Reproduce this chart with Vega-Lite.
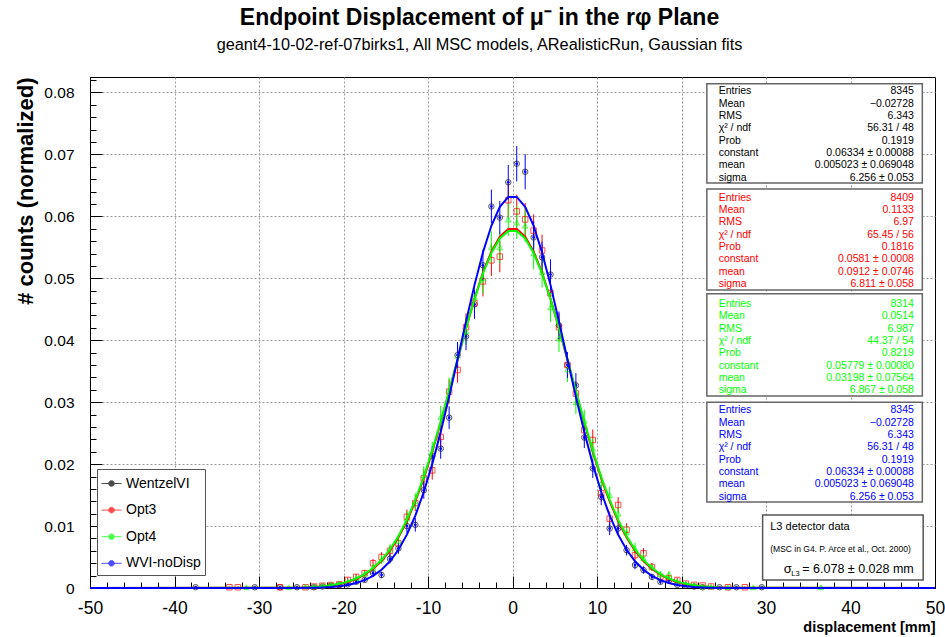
{
  "$schema": "https://vega.github.io/schema/vega-lite/v6.json",
  "width": 845,
  "height": 511,
  "autosize": {"type": "none"},
  "padding": {"left": 90, "top": 77, "right": 10, "bottom": 49},
  "background": "white",
  "title": {
    "text": "Endpoint Displacement of  μ⁻ in the rφ Plane",
    "subtitle": "geant4-10-02-ref-07birks1, All MSC models, ARealisticRun, Gaussian fits",
    "font": "Liberation Sans",
    "fontSize": 23,
    "fontWeight": "bold",
    "color": "#000",
    "subtitleFont": "Liberation Sans",
    "subtitleFontSize": 16.3,
    "subtitleColor": "#000",
    "subtitlePadding": 7,
    "anchor": "middle",
    "frame": "group",
    "dx": -33,
    "offset": 20
  },
  "config": {
    "font": "Liberation Sans",
    "view": {"stroke": "#000", "strokeWidth": 1}
  },
  "resolve": {"axis": {"x": "independent", "y": "independent"}},
  "datasets": {
    "pts": [
      {"series": "Opt3", "x": -33.5, "y": 0.00012, "err": 0.00012},
      {"series": "Opt3", "x": -32.5, "y": 0.00012, "err": 0.00012},
      {"series": "Opt3", "x": -27.5, "y": 0.00012, "err": 0.00012},
      {"series": "Opt3", "x": -24.5, "y": 0.00012, "err": 0.00012},
      {"series": "Opt3", "x": -23.5, "y": 0.00024, "err": 0.00017},
      {"series": "Opt3", "x": -22.5, "y": 0.00036, "err": 0.00021},
      {"series": "Opt3", "x": -21.5, "y": 0.00048, "err": 0.00024},
      {"series": "Opt3", "x": -20.5, "y": 0.0006, "err": 0.00027},
      {"series": "Opt3", "x": -19.5, "y": 0.0013, "err": 0.00039},
      {"series": "Opt3", "x": -18.5, "y": 0.0018, "err": 0.00046},
      {"series": "Opt3", "x": -17.5, "y": 0.0024, "err": 0.00053},
      {"series": "Opt3", "x": -16.5, "y": 0.004, "err": 0.00069},
      {"series": "Opt3", "x": -15.5, "y": 0.005, "err": 0.00077},
      {"series": "Opt3", "x": -14.5, "y": 0.006, "err": 0.00084},
      {"series": "Opt3", "x": -13.5, "y": 0.0072, "err": 0.00093},
      {"series": "Opt3", "x": -12.5, "y": 0.0115, "err": 0.00117},
      {"series": "Opt3", "x": -11.5, "y": 0.0137, "err": 0.00128},
      {"series": "Opt3", "x": -10.5, "y": 0.0177, "err": 0.00145},
      {"series": "Opt3", "x": -9.5, "y": 0.019, "err": 0.0015},
      {"series": "Opt3", "x": -8.5, "y": 0.0244, "err": 0.0017},
      {"series": "Opt3", "x": -7.5, "y": 0.0317, "err": 0.00194},
      {"series": "Opt3", "x": -6.5, "y": 0.0352, "err": 0.00205},
      {"series": "Opt3", "x": -5.5, "y": 0.0421, "err": 0.00224},
      {"series": "Opt3", "x": -4.5, "y": 0.046, "err": 0.00234},
      {"series": "Opt3", "x": -3.5, "y": 0.0495, "err": 0.00243},
      {"series": "Opt3", "x": -2.5, "y": 0.0529, "err": 0.00251},
      {"series": "Opt3", "x": -1.5, "y": 0.0535, "err": 0.00252},
      {"series": "Opt3", "x": -0.5, "y": 0.0626, "err": 0.00273},
      {"series": "Opt3", "x": 0.5, "y": 0.0608, "err": 0.00269},
      {"series": "Opt3", "x": 1.5, "y": 0.0595, "err": 0.00266},
      {"series": "Opt3", "x": 2.5, "y": 0.0577, "err": 0.00262},
      {"series": "Opt3", "x": 3.5, "y": 0.0545, "err": 0.00255},
      {"series": "Opt3", "x": 4.5, "y": 0.0476, "err": 0.00238},
      {"series": "Opt3", "x": 5.5, "y": 0.0421, "err": 0.00224},
      {"series": "Opt3", "x": 6.5, "y": 0.036, "err": 0.00207},
      {"series": "Opt3", "x": 7.5, "y": 0.0314, "err": 0.00193},
      {"series": "Opt3", "x": 8.5, "y": 0.0255, "err": 0.00174},
      {"series": "Opt3", "x": 9.5, "y": 0.0239, "err": 0.00169},
      {"series": "Opt3", "x": 10.5, "y": 0.0153, "err": 0.00135},
      {"series": "Opt3", "x": 11.5, "y": 0.0112, "err": 0.00115},
      {"series": "Opt3", "x": 12.5, "y": 0.0134, "err": 0.00126},
      {"series": "Opt3", "x": 13.5, "y": 0.0094, "err": 0.00106},
      {"series": "Opt3", "x": 14.5, "y": 0.0053, "err": 0.00079},
      {"series": "Opt3", "x": 15.5, "y": 0.0056, "err": 0.00082},
      {"series": "Opt3", "x": 16.5, "y": 0.0034, "err": 0.00064},
      {"series": "Opt3", "x": 17.5, "y": 0.0018, "err": 0.00046},
      {"series": "Opt3", "x": 18.5, "y": 0.0016, "err": 0.00044},
      {"series": "Opt3", "x": 19.5, "y": 0.0013, "err": 0.00039},
      {"series": "Opt3", "x": 20.5, "y": 0.0007, "err": 0.00029},
      {"series": "Opt3", "x": 21.5, "y": 0.0005, "err": 0.00024},
      {"series": "Opt3", "x": 22.5, "y": 0.0004, "err": 0.00022},
      {"series": "Opt3", "x": 23.5, "y": 0.00024, "err": 0.00017},
      {"series": "Opt3", "x": 25.5, "y": 0.00012, "err": 0.00012},
      {"series": "Opt3", "x": 27.5, "y": 0.00012, "err": 0.00012},
      {"series": "Opt4", "x": -31.5, "y": 0.00012, "err": 0.00012},
      {"series": "Opt4", "x": -26.5, "y": 0.00012, "err": 0.00012},
      {"series": "Opt4", "x": -24.5, "y": 0.00024, "err": 0.00017},
      {"series": "Opt4", "x": -23.5, "y": 0.00024, "err": 0.00017},
      {"series": "Opt4", "x": -22.5, "y": 0.00036, "err": 0.00021},
      {"series": "Opt4", "x": -21.5, "y": 0.0005, "err": 0.00025},
      {"series": "Opt4", "x": -20.5, "y": 0.0007, "err": 0.00029},
      {"series": "Opt4", "x": -19.5, "y": 0.001, "err": 0.00035},
      {"series": "Opt4", "x": -18.5, "y": 0.0016, "err": 0.00044},
      {"series": "Opt4", "x": -17.5, "y": 0.0023, "err": 0.00053},
      {"series": "Opt4", "x": -16.5, "y": 0.0033, "err": 0.00063},
      {"series": "Opt4", "x": -15.5, "y": 0.0046, "err": 0.00074},
      {"series": "Opt4", "x": -14.5, "y": 0.0062, "err": 0.00086},
      {"series": "Opt4", "x": -13.5, "y": 0.0076, "err": 0.00096},
      {"series": "Opt4", "x": -12.5, "y": 0.0112, "err": 0.00116},
      {"series": "Opt4", "x": -11.5, "y": 0.014, "err": 0.0013},
      {"series": "Opt4", "x": -10.5, "y": 0.0182, "err": 0.00148},
      {"series": "Opt4", "x": -9.5, "y": 0.022, "err": 0.00163},
      {"series": "Opt4", "x": -8.5, "y": 0.0276, "err": 0.00182},
      {"series": "Opt4", "x": -7.5, "y": 0.032, "err": 0.00196},
      {"series": "Opt4", "x": -6.5, "y": 0.0375, "err": 0.00212},
      {"series": "Opt4", "x": -5.5, "y": 0.0415, "err": 0.00223},
      {"series": "Opt4", "x": -4.5, "y": 0.047, "err": 0.00238},
      {"series": "Opt4", "x": -3.5, "y": 0.05, "err": 0.00245},
      {"series": "Opt4", "x": -2.5, "y": 0.055, "err": 0.00257},
      {"series": "Opt4", "x": -1.5, "y": 0.055, "err": 0.00257},
      {"series": "Opt4", "x": -0.5, "y": 0.0595, "err": 0.00268},
      {"series": "Opt4", "x": 0.5, "y": 0.059, "err": 0.00266},
      {"series": "Opt4", "x": 1.5, "y": 0.0585, "err": 0.00265},
      {"series": "Opt4", "x": 2.5, "y": 0.054, "err": 0.00255},
      {"series": "Opt4", "x": 3.5, "y": 0.051, "err": 0.00248},
      {"series": "Opt4", "x": 4.5, "y": 0.0453, "err": 0.00233},
      {"series": "Opt4", "x": 5.5, "y": 0.0403, "err": 0.0022},
      {"series": "Opt4", "x": 6.5, "y": 0.0353, "err": 0.00206},
      {"series": "Opt4", "x": 7.5, "y": 0.03, "err": 0.0019},
      {"series": "Opt4", "x": 8.5, "y": 0.027, "err": 0.0018},
      {"series": "Opt4", "x": 9.5, "y": 0.0225, "err": 0.00165},
      {"series": "Opt4", "x": 10.5, "y": 0.0169, "err": 0.00143},
      {"series": "Opt4", "x": 11.5, "y": 0.015, "err": 0.00134},
      {"series": "Opt4", "x": 12.5, "y": 0.012, "err": 0.0012},
      {"series": "Opt4", "x": 13.5, "y": 0.009, "err": 0.00104},
      {"series": "Opt4", "x": 14.5, "y": 0.0064, "err": 0.00088},
      {"series": "Opt4", "x": 15.5, "y": 0.0048, "err": 0.00076},
      {"series": "Opt4", "x": 16.5, "y": 0.0034, "err": 0.00064},
      {"series": "Opt4", "x": 17.5, "y": 0.0022, "err": 0.00051},
      {"series": "Opt4", "x": 18.5, "y": 0.0022, "err": 0.00051},
      {"series": "Opt4", "x": 19.5, "y": 0.0011, "err": 0.00036},
      {"series": "Opt4", "x": 20.5, "y": 0.0007, "err": 0.00029},
      {"series": "Opt4", "x": 21.5, "y": 0.0005, "err": 0.00025},
      {"series": "Opt4", "x": 22.5, "y": 0.00024, "err": 0.00017},
      {"series": "Opt4", "x": 23.5, "y": 0.00024, "err": 0.00017},
      {"series": "Opt4", "x": 25.5, "y": 0.00012, "err": 0.00012},
      {"series": "Opt4", "x": 28.5, "y": 0.00012, "err": 0.00012},
      {"series": "Opt4", "x": 36.5, "y": 0.00012, "err": 0.00012},
      {"series": "WVI-noDisp", "x": -37.5, "y": 0.00012, "err": 0.00012},
      {"series": "WVI-noDisp", "x": -30.5, "y": 0.00012, "err": 0.00012},
      {"series": "WVI-noDisp", "x": -27.5, "y": 0.00012, "err": 0.00012},
      {"series": "WVI-noDisp", "x": -25.5, "y": 0.00012, "err": 0.00012},
      {"series": "WVI-noDisp", "x": -23.5, "y": 0.00012, "err": 0.00012},
      {"series": "WVI-noDisp", "x": -22.5, "y": 0.00024, "err": 0.00017},
      {"series": "WVI-noDisp", "x": -21.5, "y": 0.00036, "err": 0.00021},
      {"series": "WVI-noDisp", "x": -20.5, "y": 0.00048, "err": 0.00024},
      {"series": "WVI-noDisp", "x": -19.5, "y": 0.0006, "err": 0.00027},
      {"series": "WVI-noDisp", "x": -18.5, "y": 0.001, "err": 0.00035},
      {"series": "WVI-noDisp", "x": -17.5, "y": 0.0013, "err": 0.00039},
      {"series": "WVI-noDisp", "x": -16.5, "y": 0.0024, "err": 0.00054},
      {"series": "WVI-noDisp", "x": -15.5, "y": 0.0021, "err": 0.0005},
      {"series": "WVI-noDisp", "x": -14.5, "y": 0.0047, "err": 0.00075},
      {"series": "WVI-noDisp", "x": -13.5, "y": 0.0064, "err": 0.00088},
      {"series": "WVI-noDisp", "x": -12.5, "y": 0.01, "err": 0.00109},
      {"series": "WVI-noDisp", "x": -11.5, "y": 0.0102, "err": 0.00111},
      {"series": "WVI-noDisp", "x": -10.5, "y": 0.0158, "err": 0.00138},
      {"series": "WVI-noDisp", "x": -9.5, "y": 0.0213, "err": 0.0016},
      {"series": "WVI-noDisp", "x": -8.5, "y": 0.0225, "err": 0.00164},
      {"series": "WVI-noDisp", "x": -7.5, "y": 0.0275, "err": 0.00182},
      {"series": "WVI-noDisp", "x": -6.5, "y": 0.0376, "err": 0.00212},
      {"series": "WVI-noDisp", "x": -5.5, "y": 0.0406, "err": 0.00221},
      {"series": "WVI-noDisp", "x": -4.5, "y": 0.0458, "err": 0.00234},
      {"series": "WVI-noDisp", "x": -3.5, "y": 0.0521, "err": 0.0025},
      {"series": "WVI-noDisp", "x": -2.5, "y": 0.0616, "err": 0.00272},
      {"series": "WVI-noDisp", "x": -1.5, "y": 0.0598, "err": 0.00268},
      {"series": "WVI-noDisp", "x": -0.5, "y": 0.0655, "err": 0.0028},
      {"series": "WVI-noDisp", "x": 0.5, "y": 0.0685, "err": 0.00287},
      {"series": "WVI-noDisp", "x": 1.5, "y": 0.0672, "err": 0.00284},
      {"series": "WVI-noDisp", "x": 2.5, "y": 0.0566, "err": 0.0026},
      {"series": "WVI-noDisp", "x": 3.5, "y": 0.0534, "err": 0.00253},
      {"series": "WVI-noDisp", "x": 4.5, "y": 0.0506, "err": 0.00246},
      {"series": "WVI-noDisp", "x": 5.5, "y": 0.0424, "err": 0.00225},
      {"series": "WVI-noDisp", "x": 6.5, "y": 0.036, "err": 0.00208},
      {"series": "WVI-noDisp", "x": 7.5, "y": 0.0327, "err": 0.00198},
      {"series": "WVI-noDisp", "x": 8.5, "y": 0.0243, "err": 0.00171},
      {"series": "WVI-noDisp", "x": 9.5, "y": 0.0193, "err": 0.00152},
      {"series": "WVI-noDisp", "x": 10.5, "y": 0.0147, "err": 0.00133},
      {"series": "WVI-noDisp", "x": 11.5, "y": 0.0096, "err": 0.00107},
      {"series": "WVI-noDisp", "x": 12.5, "y": 0.0096, "err": 0.00107},
      {"series": "WVI-noDisp", "x": 13.5, "y": 0.0061, "err": 0.00085},
      {"series": "WVI-noDisp", "x": 14.5, "y": 0.0037, "err": 0.00067},
      {"series": "WVI-noDisp", "x": 15.5, "y": 0.0029, "err": 0.00059},
      {"series": "WVI-noDisp", "x": 16.5, "y": 0.0018, "err": 0.00046},
      {"series": "WVI-noDisp", "x": 17.5, "y": 0.001, "err": 0.00035},
      {"series": "WVI-noDisp", "x": 18.5, "y": 0.0012, "err": 0.00038},
      {"series": "WVI-noDisp", "x": 19.5, "y": 0.0005, "err": 0.00024},
      {"series": "WVI-noDisp", "x": 20.5, "y": 0.0004, "err": 0.00022},
      {"series": "WVI-noDisp", "x": 21.5, "y": 0.00024, "err": 0.00017},
      {"series": "WVI-noDisp", "x": 22.5, "y": 0.00012, "err": 0.00012},
      {"series": "WVI-noDisp", "x": 24.5, "y": 0.00012, "err": 0.00012},
      {"series": "WVI-noDisp", "x": 26.5, "y": 0.00012, "err": 0.00012},
      {"series": "WVI-noDisp", "x": 29.5, "y": 0.00012, "err": 0.00012}
    ],
    "fits": [
      {"series": "Opt3", "x": -50, "y": 0},
      {"series": "Opt3", "x": -25.5, "y": 0.00005},
      {"series": "Opt3", "x": -24.5, "y": 0.00009},
      {"series": "Opt3", "x": -23.5, "y": 0.00015},
      {"series": "Opt3", "x": -22.5, "y": 0.00025},
      {"series": "Opt3", "x": -21.5, "y": 0.0004},
      {"series": "Opt3", "x": -20.5, "y": 0.00063},
      {"series": "Opt3", "x": -19.5, "y": 0.00096},
      {"series": "Opt3", "x": -18.5, "y": 0.00145},
      {"series": "Opt3", "x": -17.5, "y": 0.00214},
      {"series": "Opt3", "x": -16.5, "y": 0.00309},
      {"series": "Opt3", "x": -15.5, "y": 0.00436},
      {"series": "Opt3", "x": -14.5, "y": 0.00603},
      {"series": "Opt3", "x": -13.5, "y": 0.00815},
      {"series": "Opt3", "x": -12.5, "y": 0.01078},
      {"series": "Opt3", "x": -11.5, "y": 0.01397},
      {"series": "Opt3", "x": -10.5, "y": 0.01771},
      {"series": "Opt3", "x": -9.5, "y": 0.02197},
      {"series": "Opt3", "x": -8.5, "y": 0.02667},
      {"series": "Opt3", "x": -7.5, "y": 0.03169},
      {"series": "Opt3", "x": -6.5, "y": 0.03685},
      {"series": "Opt3", "x": -5.5, "y": 0.04194},
      {"series": "Opt3", "x": -4.5, "y": 0.04671},
      {"series": "Opt3", "x": -3.5, "y": 0.05091},
      {"series": "Opt3", "x": -2.5, "y": 0.05431},
      {"series": "Opt3", "x": -1.5, "y": 0.05671},
      {"series": "Opt3", "x": -0.5, "y": 0.05794},
      {"series": "Opt3", "x": 0.5, "y": 0.05794},
      {"series": "Opt3", "x": 1.5, "y": 0.05671},
      {"series": "Opt3", "x": 2.5, "y": 0.05431},
      {"series": "Opt3", "x": 3.5, "y": 0.05091},
      {"series": "Opt3", "x": 4.5, "y": 0.04671},
      {"series": "Opt3", "x": 5.5, "y": 0.04194},
      {"series": "Opt3", "x": 6.5, "y": 0.03685},
      {"series": "Opt3", "x": 7.5, "y": 0.03169},
      {"series": "Opt3", "x": 8.5, "y": 0.02667},
      {"series": "Opt3", "x": 9.5, "y": 0.02197},
      {"series": "Opt3", "x": 10.5, "y": 0.01771},
      {"series": "Opt3", "x": 11.5, "y": 0.01397},
      {"series": "Opt3", "x": 12.5, "y": 0.01078},
      {"series": "Opt3", "x": 13.5, "y": 0.00815},
      {"series": "Opt3", "x": 14.5, "y": 0.00603},
      {"series": "Opt3", "x": 15.5, "y": 0.00436},
      {"series": "Opt3", "x": 16.5, "y": 0.00309},
      {"series": "Opt3", "x": 17.5, "y": 0.00214},
      {"series": "Opt3", "x": 18.5, "y": 0.00145},
      {"series": "Opt3", "x": 19.5, "y": 0.00096},
      {"series": "Opt3", "x": 20.5, "y": 0.00063},
      {"series": "Opt3", "x": 21.5, "y": 0.0004},
      {"series": "Opt3", "x": 22.5, "y": 0.00025},
      {"series": "Opt3", "x": 23.5, "y": 0.00015},
      {"series": "Opt3", "x": 24.5, "y": 0.00009},
      {"series": "Opt3", "x": 25.5, "y": 0.00005},
      {"series": "Opt3", "x": 50, "y": 0},
      {"series": "Opt4", "x": -50, "y": 0},
      {"series": "Opt4", "x": -25.5, "y": 0.00006},
      {"series": "Opt4", "x": -24.5, "y": 0.0001},
      {"series": "Opt4", "x": -23.5, "y": 0.00017},
      {"series": "Opt4", "x": -22.5, "y": 0.00027},
      {"series": "Opt4", "x": -21.5, "y": 0.00043},
      {"series": "Opt4", "x": -20.5, "y": 0.00067},
      {"series": "Opt4", "x": -19.5, "y": 0.00103},
      {"series": "Opt4", "x": -18.5, "y": 0.00153},
      {"series": "Opt4", "x": -17.5, "y": 0.00225},
      {"series": "Opt4", "x": -16.5, "y": 0.00322},
      {"series": "Opt4", "x": -15.5, "y": 0.00452},
      {"series": "Opt4", "x": -14.5, "y": 0.00622},
      {"series": "Opt4", "x": -13.5, "y": 0.00837},
      {"series": "Opt4", "x": -12.5, "y": 0.01102},
      {"series": "Opt4", "x": -11.5, "y": 0.01422},
      {"series": "Opt4", "x": -10.5, "y": 0.01795},
      {"series": "Opt4", "x": -9.5, "y": 0.02219},
      {"series": "Opt4", "x": -8.5, "y": 0.02686},
      {"series": "Opt4", "x": -7.5, "y": 0.03183},
      {"series": "Opt4", "x": -6.5, "y": 0.03692},
      {"series": "Opt4", "x": -5.5, "y": 0.04193},
      {"series": "Opt4", "x": -4.5, "y": 0.04662},
      {"series": "Opt4", "x": -3.5, "y": 0.05075},
      {"series": "Opt4", "x": -2.5, "y": 0.05408},
      {"series": "Opt4", "x": -1.5, "y": 0.05643},
      {"series": "Opt4", "x": -0.5, "y": 0.05764},
      {"series": "Opt4", "x": 0.5, "y": 0.05764},
      {"series": "Opt4", "x": 1.5, "y": 0.05643},
      {"series": "Opt4", "x": 2.5, "y": 0.05408},
      {"series": "Opt4", "x": 3.5, "y": 0.05075},
      {"series": "Opt4", "x": 4.5, "y": 0.04662},
      {"series": "Opt4", "x": 5.5, "y": 0.04193},
      {"series": "Opt4", "x": 6.5, "y": 0.03692},
      {"series": "Opt4", "x": 7.5, "y": 0.03183},
      {"series": "Opt4", "x": 8.5, "y": 0.02686},
      {"series": "Opt4", "x": 9.5, "y": 0.02219},
      {"series": "Opt4", "x": 10.5, "y": 0.01795},
      {"series": "Opt4", "x": 11.5, "y": 0.01422},
      {"series": "Opt4", "x": 12.5, "y": 0.01102},
      {"series": "Opt4", "x": 13.5, "y": 0.00837},
      {"series": "Opt4", "x": 14.5, "y": 0.00622},
      {"series": "Opt4", "x": 15.5, "y": 0.00452},
      {"series": "Opt4", "x": 16.5, "y": 0.00322},
      {"series": "Opt4", "x": 17.5, "y": 0.00225},
      {"series": "Opt4", "x": 18.5, "y": 0.00153},
      {"series": "Opt4", "x": 19.5, "y": 0.00103},
      {"series": "Opt4", "x": 20.5, "y": 0.00067},
      {"series": "Opt4", "x": 21.5, "y": 0.00043},
      {"series": "Opt4", "x": 22.5, "y": 0.00027},
      {"series": "Opt4", "x": 23.5, "y": 0.00017},
      {"series": "Opt4", "x": 24.5, "y": 0.0001},
      {"series": "Opt4", "x": 25.5, "y": 0.00006},
      {"series": "Opt4", "x": 50, "y": 0},
      {"series": "WVI-noDisp", "x": -50, "y": 0},
      {"series": "WVI-noDisp", "x": -25.5, "y": 0.00001},
      {"series": "WVI-noDisp", "x": -23.5, "y": 0.00005},
      {"series": "WVI-noDisp", "x": -22.5, "y": 0.0001},
      {"series": "WVI-noDisp", "x": -21.5, "y": 0.00017},
      {"series": "WVI-noDisp", "x": -20.5, "y": 0.0003},
      {"series": "WVI-noDisp", "x": -19.5, "y": 0.00049},
      {"series": "WVI-noDisp", "x": -18.5, "y": 0.0008},
      {"series": "WVI-noDisp", "x": -17.5, "y": 0.00127},
      {"series": "WVI-noDisp", "x": -16.5, "y": 0.00196},
      {"series": "WVI-noDisp", "x": -15.5, "y": 0.00294},
      {"series": "WVI-noDisp", "x": -14.5, "y": 0.00432},
      {"series": "WVI-noDisp", "x": -13.5, "y": 0.00618},
      {"series": "WVI-noDisp", "x": -12.5, "y": 0.00861},
      {"series": "WVI-noDisp", "x": -11.5, "y": 0.01169},
      {"series": "WVI-noDisp", "x": -10.5, "y": 0.01549},
      {"series": "WVI-noDisp", "x": -9.5, "y": 0.02},
      {"series": "WVI-noDisp", "x": -8.5, "y": 0.02517},
      {"series": "WVI-noDisp", "x": -7.5, "y": 0.03088},
      {"series": "WVI-noDisp", "x": -6.5, "y": 0.03692},
      {"series": "WVI-noDisp", "x": -5.5, "y": 0.04304},
      {"series": "WVI-noDisp", "x": -4.5, "y": 0.0489},
      {"series": "WVI-noDisp", "x": -3.5, "y": 0.05416},
      {"series": "WVI-noDisp", "x": -2.5, "y": 0.05848},
      {"series": "WVI-noDisp", "x": -1.5, "y": 0.06155},
      {"series": "WVI-noDisp", "x": -0.5, "y": 0.06314},
      {"series": "WVI-noDisp", "x": 0.5, "y": 0.06314},
      {"series": "WVI-noDisp", "x": 1.5, "y": 0.06155},
      {"series": "WVI-noDisp", "x": 2.5, "y": 0.05848},
      {"series": "WVI-noDisp", "x": 3.5, "y": 0.05416},
      {"series": "WVI-noDisp", "x": 4.5, "y": 0.0489},
      {"series": "WVI-noDisp", "x": 5.5, "y": 0.04304},
      {"series": "WVI-noDisp", "x": 6.5, "y": 0.03692},
      {"series": "WVI-noDisp", "x": 7.5, "y": 0.03088},
      {"series": "WVI-noDisp", "x": 8.5, "y": 0.02517},
      {"series": "WVI-noDisp", "x": 9.5, "y": 0.02},
      {"series": "WVI-noDisp", "x": 10.5, "y": 0.01549},
      {"series": "WVI-noDisp", "x": 11.5, "y": 0.01169},
      {"series": "WVI-noDisp", "x": 12.5, "y": 0.00861},
      {"series": "WVI-noDisp", "x": 13.5, "y": 0.00618},
      {"series": "WVI-noDisp", "x": 14.5, "y": 0.00432},
      {"series": "WVI-noDisp", "x": 15.5, "y": 0.00294},
      {"series": "WVI-noDisp", "x": 16.5, "y": 0.00196},
      {"series": "WVI-noDisp", "x": 17.5, "y": 0.00127},
      {"series": "WVI-noDisp", "x": 18.5, "y": 0.0008},
      {"series": "WVI-noDisp", "x": 19.5, "y": 0.00049},
      {"series": "WVI-noDisp", "x": 20.5, "y": 0.0003},
      {"series": "WVI-noDisp", "x": 21.5, "y": 0.00017},
      {"series": "WVI-noDisp", "x": 22.5, "y": 0.0001},
      {"series": "WVI-noDisp", "x": 23.5, "y": 0.00005},
      {"series": "WVI-noDisp", "x": 25.5, "y": 0.00001},
      {"series": "WVI-noDisp", "x": 50, "y": 0}
    ]
  },
  "layer": [
    {
      "data": {"name": "pts"},
      "transform": [{"filter": "datum.series === 'WVI-noDisp'"}],
      "mark": {"type": "point", "shape": "circle", "filled": false, "stroke": "#000", "strokeWidth": 1, "size": 30},
      "encoding": {
        "x": {
          "field": "x",
          "type": "quantitative",
          "scale": {"domain": [-50, 50], "nice": false, "zero": false},
          "axis": {
            "values": [-50,-48,-46,-44,-42,-40,-38,-36,-34,-32,-30,-28,-26,-24,-22,-20,-18,-16,-14,-12,-10,-8,-6,-4,-2,0,2,4,6,8,10,12,14,16,18,20,22,24,26,28,30,32,34,36,38,40,42,44,46,48,50],
            "labelExpr": "datum.value % 10 === 0 ? '' + datum.value : ''",
            "labelFont": "Liberation Sans",
            "labelFontSize": 17.5,
            "labelColor": "#000",
            "labelPadding": 23,
            "labelFlush": false,
            "labelOverlap": false,
            "tickColor": "#000",
            "tickSize": {"condition": {"test": "datum.value % 10 === 0", "value": -12}, "value": -6},
            "domainColor": "#000",
            "grid": true,
            "gridColor": "#999",
            "gridDash": [2, 2],
            "gridOpacity": {"condition": {"test": "datum.value % 10 === 0 && abs(datum.value) < 50", "value": 1}, "value": 0},
            "title": "displacement [mm]",
            "titleFont": "Liberation Sans",
            "titleFontSize": 14.5,
            "titleFontWeight": "bold",
            "titleColor": "#000",
            "titleAnchor": "end",
            "titlePadding": -2
          }
        },
        "y": {
          "field": "y",
          "type": "quantitative",
          "scale": {"domain": [0, 0.0825], "nice": false, "zero": false},
          "axis": {
            "values": [0,0.002,0.004,0.006,0.008,0.01,0.012,0.014,0.016,0.018,0.02,0.022,0.024,0.026,0.028,0.03,0.032,0.034,0.036,0.038,0.04,0.042,0.044,0.046,0.048,0.05,0.052,0.054,0.056,0.058,0.06,0.062,0.064,0.066,0.068,0.07,0.072,0.074,0.076,0.078,0.08,0.082],
            "labelExpr": "abs(datum.value * 100 - round(datum.value * 100)) < 0.001 ? (datum.value === 0 ? '0' : format(datum.value, '.2f')) : ''",
            "labelFont": "Liberation Sans",
            "labelFontSize": 15.5,
            "labelColor": "#000",
            "labelPadding": 28,
            "labelOverlap": false,
            "tickColor": "#000",
            "tickSize": {"condition": {"test": "abs(datum.value * 100 - round(datum.value * 100)) < 0.001", "value": -12}, "value": -6},
            "domainColor": "#000",
            "grid": true,
            "gridColor": "#999",
            "gridDash": [2, 2],
            "gridOpacity": {"condition": {"test": "abs(datum.value * 100 - round(datum.value * 100)) < 0.001 && datum.value > 0", "value": 1}, "value": 0},
            "title": "# counts (normalized)",
            "titleFont": "Liberation Sans",
            "titleFontSize": 22,
            "titleFontWeight": "bold",
            "titleColor": "#000",
            "titleAnchor": "end",
            "titlePadding": 6
          }
        }
      }
    },
    {
      "data": {"name": "pts"},
      "mark": {"type": "errorbar", "thickness": 1},
      "encoding": {
        "x": {"field": "x", "type": "quantitative", "axis": null},
        "y": {"field": "y", "type": "quantitative", "axis": null},
        "yError": {"field": "err"},
        "color": {"field": "series", "type": "nominal"}
      }
    },
    {
      "data": {"name": "pts"},
      "transform": [{"filter": "datum.series !== 'WVI-noDisp'"}],
      "mark": {"type": "point", "filled": false, "strokeWidth": 1, "size": 30},
      "encoding": {
        "x": {"field": "x", "type": "quantitative", "axis": null},
        "y": {"field": "y", "type": "quantitative", "axis": null},
        "color": {"field": "series", "type": "nominal"},
        "shape": {"field": "series", "type": "nominal", "scale": {"domain": ["Opt3", "Opt4"], "range": ["square", "triangle-up"]}, "legend": null}
      }
    },
    {
      "data": {"name": "pts"},
      "transform": [{"filter": "datum.series === 'WVI-noDisp'"}],
      "mark": {"type": "point", "shape": "circle", "filled": true, "size": 8, "opacity": 1},
      "encoding": {
        "x": {"field": "x", "type": "quantitative", "axis": null},
        "y": {"field": "y", "type": "quantitative", "axis": null},
        "color": {"field": "series", "type": "nominal"}
      }
    },
    {
      "data": {"name": "fits"},
      "mark": {"type": "line", "strokeWidth": 2, "interpolate": "linear"},
      "encoding": {
        "x": {"field": "x", "type": "quantitative", "axis": null},
        "y": {"field": "y", "type": "quantitative", "axis": null},
        "color": {
          "field": "series",
          "type": "nominal",
          "scale": {"domain": ["WentzelVI", "Opt3", "Opt4", "WVI-noDisp"], "range": ["#000000", "#ff0000", "#00ff00", "#0000ff"]},
          "legend": {
            "title": null,
            "orient": "none",
            "legendX": 7,
            "legendY": 392,
            "symbolType": "M-1,0H1M0.28,0A0.28,0.28 0 1,1 -0.28,0A0.28,0.28 0 1,1 0.28,0",
            "symbolSize": 400,
            "symbolStrokeWidth": 1,
            "symbolFillColor": "transparent",
            "labelFont": "Liberation Sans",
            "labelFontSize": 14,
            "labelColor": "#000",
            "labelOffset": 4,
            "rowPadding": 8.6,
            "padding": 4,
            "strokeColor": "#555",
            "fillColor": "white"
          }
        }
      }
    },
    {
      "data": {"values": [{}]},
      "mark": {"type": "rect", "fill": "white", "stroke": "#666", "strokeWidth": 1.5},
      "encoding": {"x": {"datum": 23.0, "axis": null}, "x2": {"datum": 48.5}, "y": {"datum": 0.0814, "axis": null}, "y2": {"datum": 0.0654}}
    },
    {
      "data": {"values": [{}]},
      "mark": {"type": "rect", "fill": "white", "stroke": "#666", "strokeWidth": 1.5},
      "encoding": {"x": {"datum": 23.0, "axis": null}, "x2": {"datum": 48.5}, "y": {"datum": 0.0644, "axis": null}, "y2": {"datum": 0.0481}}
    },
    {
      "data": {"values": [{}]},
      "mark": {"type": "rect", "fill": "white", "stroke": "#666", "strokeWidth": 1.5},
      "encoding": {"x": {"datum": 23.0, "axis": null}, "x2": {"datum": 48.5}, "y": {"datum": 0.0475, "axis": null}, "y2": {"datum": 0.031}}
    },
    {
      "data": {"values": [{}]},
      "mark": {"type": "rect", "fill": "white", "stroke": "#666", "strokeWidth": 1.5},
      "encoding": {"x": {"datum": 23.0, "axis": null}, "x2": {"datum": 48.5}, "y": {"datum": 0.03, "axis": null}, "y2": {"datum": 0.0139}}
    },
    {
      "data": {"values": [{}]},
      "mark": {"type": "rect", "fill": "white", "stroke": "#555", "strokeWidth": 1.5},
      "encoding": {"x": {"datum": 29.6, "axis": null}, "x2": {"datum": 48.6}, "y": {"datum": 0.0118, "axis": null}, "y2": {"datum": 0.0013}}
    },
    {
      "data": {"values": [{}]},
      "mark": {"type": "text", "align": "left", "baseline": "alphabetic", "fontSize": 10.5, "lineHeight": 12.33, "color": "#000", "text": ["Entries", "Mean", "RMS", "χ² / ndf", "Prob", "constant", "mean", "sigma"]},
      "encoding": {"x": {"datum": 24.4, "axis": null}, "y": {"datum": 0.0797, "axis": null}}
    },
    {
      "data": {"values": [{}]},
      "mark": {"type": "text", "align": "right", "baseline": "alphabetic", "fontSize": 10.5, "lineHeight": 12.33, "color": "#000", "text": ["8345", "−0.02728", "6.343", "56.31 / 48", "0.1919", "0.06334 ± 0.00088", "0.005023 ± 0.069048", "6.256 ± 0.053"]},
      "encoding": {"x": {"datum": 47.5, "axis": null}, "y": {"datum": 0.0797, "axis": null}}
    },
    {
      "data": {"values": [{}]},
      "mark": {"type": "text", "align": "left", "baseline": "alphabetic", "fontSize": 10.5, "lineHeight": 12.33, "color": "#ff0000", "text": ["Entries", "Mean", "RMS", "χ² / ndf", "Prob", "constant", "mean", "sigma"]},
      "encoding": {"x": {"datum": 24.4, "axis": null}, "y": {"datum": 0.06255, "axis": null}}
    },
    {
      "data": {"values": [{}]},
      "mark": {"type": "text", "align": "right", "baseline": "alphabetic", "fontSize": 10.5, "lineHeight": 12.33, "color": "#ff0000", "text": ["8409", "0.1133", "6.97", "65.45 / 56", "0.1816", "0.0581 ± 0.0008", "0.0912 ± 0.0746", "6.811 ± 0.058"]},
      "encoding": {"x": {"datum": 47.5, "axis": null}, "y": {"datum": 0.06255, "axis": null}}
    },
    {
      "data": {"values": [{}]},
      "mark": {"type": "text", "align": "left", "baseline": "alphabetic", "fontSize": 10.5, "lineHeight": 12.33, "color": "#00ff00", "text": ["Entries", "Mean", "RMS", "χ² / ndf", "Prob", "constant", "mean", "sigma"]},
      "encoding": {"x": {"datum": 24.4, "axis": null}, "y": {"datum": 0.04537, "axis": null}}
    },
    {
      "data": {"values": [{}]},
      "mark": {"type": "text", "align": "right", "baseline": "alphabetic", "fontSize": 10.5, "lineHeight": 12.33, "color": "#00ff00", "text": ["8314", "0.0514", "6.987", "44.37 / 54", "0.8219", "0.05779 ± 0.00080", "0.03198 ± 0.07564", "6.867 ± 0.058"]},
      "encoding": {"x": {"datum": 47.5, "axis": null}, "y": {"datum": 0.04537, "axis": null}}
    },
    {
      "data": {"values": [{}]},
      "mark": {"type": "text", "align": "left", "baseline": "alphabetic", "fontSize": 10.5, "lineHeight": 12.33, "color": "#0000ff", "text": ["Entries", "Mean", "RMS", "χ² / ndf", "Prob", "constant", "mean", "sigma"]},
      "encoding": {"x": {"datum": 24.4, "axis": null}, "y": {"datum": 0.02818, "axis": null}}
    },
    {
      "data": {"values": [{}]},
      "mark": {"type": "text", "align": "right", "baseline": "alphabetic", "fontSize": 10.5, "lineHeight": 12.33, "color": "#0000ff", "text": ["8345", "−0.02728", "6.343", "56.31 / 48", "0.1919", "0.06334 ± 0.00088", "0.005023 ± 0.069048", "6.256 ± 0.053"]},
      "encoding": {"x": {"datum": 47.5, "axis": null}, "y": {"datum": 0.02818, "axis": null}}
    },
    {
      "data": {"values": [{}]},
      "mark": {"type": "text", "align": "left", "baseline": "middle", "fontSize": 11, "color": "#000", "text": "L3 detector data"},
      "encoding": {"x": {"datum": 30.5, "axis": null}, "y": {"datum": 0.00984, "axis": null}}
    },
    {
      "data": {"values": [{}]},
      "mark": {"type": "text", "align": "left", "baseline": "middle", "fontSize": 8.5, "color": "#000", "text": "(MSC in G4. P. Arce et al., Oct. 2000)"},
      "encoding": {"x": {"datum": 30.5, "axis": null}, "y": {"datum": 0.00629, "axis": null}}
    },
    {
      "data": {"values": [{}]},
      "mark": {"type": "text", "align": "left", "baseline": "middle", "fontSize": 13, "color": "#000", "text": "σ"},
      "encoding": {"x": {"datum": 32.1, "axis": null}, "y": {"datum": 0.00306, "axis": null}}
    },
    {
      "data": {"values": [{}]},
      "mark": {"type": "text", "align": "left", "baseline": "middle", "fontSize": 7.5, "color": "#000", "text": "L3"},
      "encoding": {"x": {"datum": 33.0, "axis": null}, "y": {"datum": 0.0022, "axis": null}}
    },
    {
      "data": {"values": [{}]},
      "mark": {"type": "text", "align": "left", "baseline": "middle", "fontSize": 12.5, "color": "#000", "text": "= 6.078 ± 0.028 mm"},
      "encoding": {"x": {"datum": 34.3, "axis": null}, "y": {"datum": 0.00306, "axis": null}}
    }
  ]
}
